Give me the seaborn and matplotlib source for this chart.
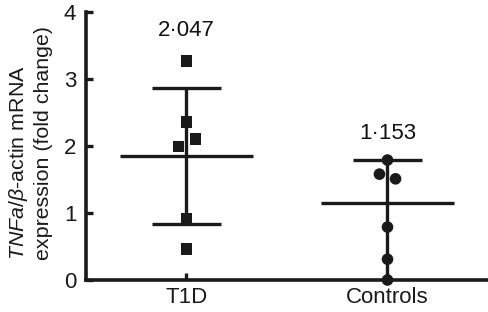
import matplotlib
matplotlib.use("Agg")
import matplotlib.pyplot as plt
import seaborn as sns
import pandas as pd
import numpy as np

groups = ["T1D", "Controls"]
t1d_values = [3.27, 2.36, 2.10, 1.99, 0.91, 0.46]
t1d_offsets = [0.0, 0.0, 0.045, -0.04, 0.0, 0.0]
ctrl_values = [1.79, 1.58, 1.51, 0.79, 0.31, 0.0]
ctrl_offsets = [0.0, -0.04, 0.04, 0.0, 0.0, 0.0]
means = [1.85, 1.15]
err_low = [0.83, 0.0]
err_high = [2.87, 1.79]
labels = ["2·047", "1·153"]
label_y = [3.73, 2.19]

sns.set_theme(style="ticks")
plt.rcParams["font.family"] = ["Liberation Sans", "DejaVu Sans"]
plt.rcParams["mathtext.fontset"] = "custom"
plt.rcParams["mathtext.it"] = "Liberation Sans:italic"
plt.rcParams["mathtext.rm"] = "Liberation Sans"

df = pd.DataFrame({
    "x": [0 + o for o in t1d_offsets] + [1 + o for o in ctrl_offsets],
    "y": t1d_values + ctrl_values,
    "group": ["T1D"] * len(t1d_values) + ["Controls"] * len(ctrl_values),
})

fig = plt.figure(figsize=(4.89, 3.12), dpi=100)
ax = fig.add_axes([86 / 489, 32 / 312, (489 - 86) / 489, (280 - 12) / 312])

lc = "#1a1a1a"
for i, g in enumerate(groups):
    ax.vlines(i, err_low[i], err_high[i], color=lc, lw=2.4, zorder=2)
    ax.hlines([err_low[i], err_high[i]] if err_low[i] > 0 else [err_high[i]],
              i - 0.17, i + 0.17, color=lc, lw=2.4, zorder=2)
    ax.hlines(means[i], i - 0.33, i + 0.33, color=lc, lw=2.4, zorder=2)
    ax.text(i, label_y[i], labels[i], ha="center", va="center", fontsize=16, color="#111111")

sns.scatterplot(data=df, x="x", y="y", style="group", markers={"T1D": "s", "Controls": "o"},
                color=lc, s=70, edgecolor=lc, linewidth=0, legend=False, ax=ax, zorder=3, clip_on=False)

ax.set_xlim(-0.5, 1.505)
ax.set_ylim(0, 4)
ax.set_xticks([0, 1])
ax.set_xticklabels(groups)
ax.set_yticks([0, 1, 2, 3, 4])
ax.tick_params(direction="in", length=5, width=2.4, labelsize=16, colors=lc, pad=5)
ax.tick_params(axis="y", pad=7)
for s in ["top", "right"]:
    ax.spines[s].set_visible(False)
for s in ["left", "bottom"]:
    ax.spines[s].set_linewidth(2.6)
    ax.spines[s].set_color(lc)
ax.set_xlabel("")
ax.set_ylabel(r"$\it{TNFa}$/$\it{\beta}$-actin mRNA" + "\n" + "expression (fold change)",
              fontsize=15.4, color=lc, linespacing=1.22, multialignment="left")
ax.yaxis.set_label_coords(-0.083, 0.51)

fig.savefig("out.png", dpi=100)
